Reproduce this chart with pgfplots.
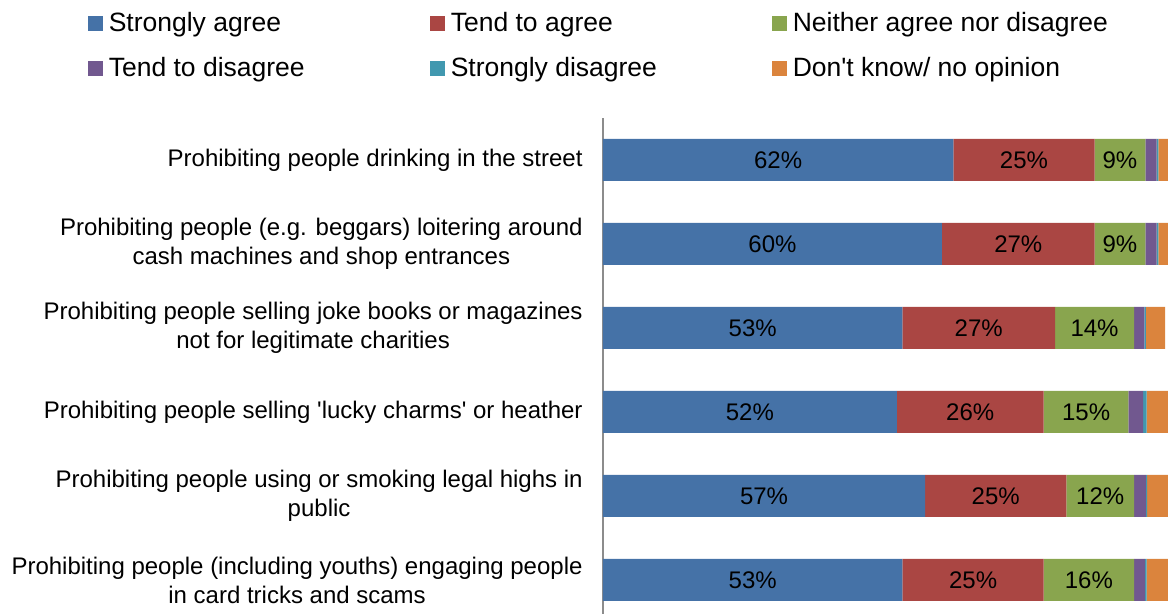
\documentclass[border=0pt]{standalone}
\usepackage{pgfplots}
\pgfplotsset{compat=1.18}
\usepackage{fontspec}
\setmainfont{Liberation Sans}
\definecolor{cSA}{HTML}{4572A7}
\definecolor{cTA}{HTML}{AA4643}
\definecolor{cNe}{HTML}{89A54E}
\definecolor{cTD}{HTML}{71588F}
\definecolor{cSD}{HTML}{4198AF}
\definecolor{cDK}{HTML}{DB843D}
\begin{document}
\begin{tikzpicture}
\path[use as bounding box] (0pt,0pt) rectangle (584pt,-307pt);
\begin{axis}[
  at={(301.5pt,-59pt)}, anchor=north west,
  scale only axis, width=282.5pt, height=252pt,
  xbar stacked, bar width=21pt,
  xmin=0, xmax=100, ymin=0.5, ymax=6.5,
  axis x line=none, axis y line*=left,
  y axis line style={draw=black!45, line width=1pt},
  ytick={1,2,3,4,5,6},
  yticklabels={{Prohibiting people (including youths) engaging people\\in card tricks and scams},
    {Prohibiting people using or smoking legal highs in\\public},
    {Prohibiting people selling \textquotesingle lucky charms\textquotesingle\ or heather},
    {Prohibiting people selling joke books or magazines\\not for legitimate charities},
    {Prohibiting people (e.g. beggars) loitering around\\cash machines and shop entrances},
    {Prohibiting people drinking in the street}},
  major tick length=0pt,
  yticklabel style={align=center, inner sep=0pt, xshift=-10pt, font=\fontsize{12}{14.5}\selectfont},
  legend columns=3,
  legend cell align=left,
  legend style={draw=none, fill=none, inner sep=0pt, outer sep=0pt,
    at={(axis description cs:-0.9115,1.2109)}, anchor=north west,
    nodes={inner sep=0pt, text height=10pt, text depth=3pt, font=\fontsize{13.25}{15}\selectfont},
    row sep=9.5pt,
    /tikz/every odd column/.append style={column sep=3pt},
    /tikz/every even column/.append style={column sep=0pt}},
  legend image code/.code={\fill[#1] (0pt,-3.2pt) rectangle (7.4pt,4.2pt);},
]
\addplot[fill=cSA, draw=none] coordinates {(53,1) (57,2) (52,3) (53,4) (60,5) (62,6)};
\addlegendentry{\makebox[160.6pt][l]{Strongly agree}}
\addplot[fill=cTA, draw=none] coordinates {(25,1) (25,2) (26,3) (27,4) (27,5) (25,6)};
\addlegendentry{\makebox[160.6pt][l]{Tend to agree}}
\addplot[fill=cNe, draw=none] coordinates {(16,1) (12,2) (15,3) (14,4) (9,5) (9,6)};
\addlegendentry{\makebox[160.6pt][l]{Neither agree nor disagree}}
\addplot[fill=cTD, draw=none] coordinates {(1.9,1) (2.1,2) (2.6,3) (1.8,4) (2,5) (2,6)};
\addlegendentry{\makebox[160.6pt][l]{Tend to disagree}}
\addplot[fill=cSD, draw=none] coordinates {(0.3,1) (0.2,2) (0.6,3) (0.3,4) (0.3,5) (0.3,6)};
\addlegendentry{\makebox[160.6pt][l]{Strongly disagree}}
\addplot[fill=cDK, draw=none] coordinates {(3.8,1) (3.7,2) (3.8,3) (3.4,4) (1.7,5) (1.7,6)};
\addlegendentry{\makebox[160.6pt][l]{Don\textquotesingle t know/ no opinion}}
\end{axis}
\begin{axis}[
  at={(301.5pt,-59pt)}, anchor=north west,
  scale only axis, width=282.5pt, height=252pt,
  xmin=0, xmax=100, ymin=0.5, ymax=6.5,
  hide axis, clip=false,
  /pgf/number format/assume math mode=true,
]
\addplot[draw=none, mark=none, point meta=explicit,
  nodes near coords={\pgfmathprintnumber{\pgfplotspointmeta}\%},
  every node near coord/.append style={anchor=center, inner sep=0pt, font=\fontsize{12}{14.5}\selectfont, text=black}]
  coordinates {
  (31,6) [62] (74.5,6) [25] (91.5,6) [9]
  (30,5) [60] (73.5,5) [27] (91.5,5) [9]
  (26.5,4) [53] (66.5,4) [27] (87,4) [14]
  (26,3) [52] (65,3) [26] (85.5,3) [15]
  (28.5,2) [57] (69.5,2) [25] (88,2) [12]
  (26.5,1) [53] (65.5,1) [25] (86,1) [16]
  };
\end{axis}
\end{tikzpicture}
\end{document}
